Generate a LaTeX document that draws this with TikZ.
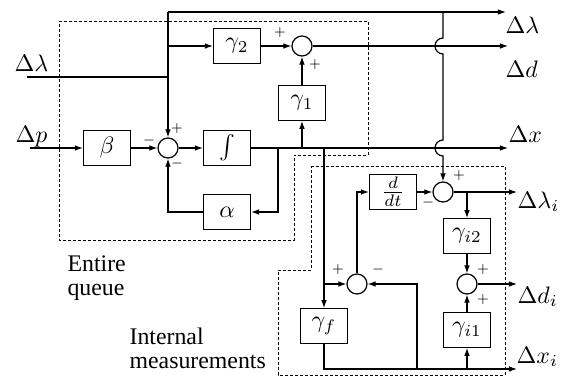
\documentclass[tikz,border=0pt]{standalone}
\usepackage{fontspec}
\newfontfamily\lsf{Liberation Serif}
\usetikzlibrary{arrows.meta}
\tikzset{
 blk/.style={draw, line width=0.5pt, minimum width=19.7pt, minimum height=14.5pt, inner sep=0pt},
 sumc/.style={draw, circle, line width=0.5pt, minimum size=8.4pt, inner sep=0pt},
 sig/.style={font=\fontsize{5}{6}\selectfont, inner sep=0pt},
 arr/.style={-{Latex[length=3.4pt,width=2.4pt]}},
 dbox/.style={line width=0.4pt, dash pattern=on 1.2pt off 0.9pt},
 mlbl/.style={anchor=base west, inner sep=0pt},
 tlbl/.style={anchor=base west, inner sep=0pt, font=\lsf},
}
\begin{document}
\begin{tikzpicture}[x=0.42pt,y=-0.42pt, line width=0.5pt]
\useasboundingbox (0,0) rectangle (569,376);
% dashed regions
\draw[dbox] (59,21) -- (368,21) -- (368,155) -- (294,155) -- (294,240) -- (59,240) -- cycle;
\draw[dbox] (311,166) -- (505,166) -- (505,375) -- (278,375) -- (278,270) -- (311,270) -- cycle;
% blocks
\node[blk] (beta) at (107,148) {$\beta$};
\node[sumc] (sum1) at (168,148) {};
\node[blk] (int) at (227,148) {$\int$};
\node[blk] (alpha) at (227,212) {$\alpha$};
\node[blk] (g2) at (237,46) {$\gamma_2$};
\node[sumc] (sum2) at (302,46) {};
\node[blk] (g1) at (302,103) {$\gamma_1$};
\node[blk] (ddt) at (393,192) {$\frac{d}{dt}$};
\node[sumc] (sum3) at (443,192) {};
\node[blk] (gi2) at (467,236) {$\gamma_{i2}$};
\node[sumc] (sum4) at (467,284) {};
\node[blk] (gi1) at (467,330) {$\gamma_{i1}$};
\node[sumc] (sum5) at (357,284) {};
\node[blk] (gf) at (324,326) {$\gamma_f$};
% coordinates
\coordinate (iLam) at (27,77);
\coordinate (iP) at (30,148);
\coordinate (jA) at (168,77);
\coordinate (jTop) at (168,12);
\coordinate (jG2) at (168,46);
\coordinate (oLam) at (506,12);
\coordinate (oD) at (508,46);
\coordinate (oX) at (508,148);
\coordinate (oLi) at (517,192);
\coordinate (oDi) at (517,284);
\coordinate (oXi) at (517,369);
\coordinate (jAl) at (278,148);
\coordinate (jG1) at (302,148);
\coordinate (jF) at (324,148);
\coordinate (jS5) at (324,284);
\coordinate (jV) at (443,12);
\coordinate (jH1) at (443,38);
\coordinate (jH2) at (443,140);
\coordinate (jGi2) at (467,192);
\coordinate (jB1) at (417,369);
\coordinate (jB2) at (467,369);
% connectors
\draw (iLam) -- (jA);
\draw (jA) -- (jTop);
\draw[arr] (jTop) -- (oLam);
\draw[arr] (jA) -- (sum1);
\draw[arr] (jG2) -- (g2);
\draw[arr] (iP) -- (beta);
\draw[arr] (beta) -- (sum1);
\draw[arr] (sum1) -- (int);
\draw[arr] (int) -- (oX);
\draw[arr] (jAl) |- (alpha);
\draw[arr] (alpha) -| (sum1);
\draw[arr] (jG1) -- (g1);
\draw[arr] (g1) -- (sum2);
\draw[arr] (g2) -- (sum2);
\draw[arr] (sum2) -- (oD);
\draw[arr] (jV) -- (jH1) arc[start angle=90, end angle=270, radius=3.36pt]
  -- (jH2) arc[start angle=90, end angle=270, radius=3.36pt] -- (sum3);
\draw[arr] (ddt) -- (sum3);
\draw[arr] (sum3) -- (oLi);
\draw[arr] (jGi2) -- (gi2);
\draw[arr] (gi2) -- (sum4);
\draw[arr] (gi1) -- (sum4);
\draw[arr] (sum4) -- (oDi);
\draw[arr] (jF) -- (gf);
\draw[arr] (jS5) -- (sum5);
\draw[arr] (gf) |- (oXi);
\draw[arr] (jB1) |- (sum5);
\draw[arr] (jB2) -- (gi1);
\draw[arr] (sum5) |- (ddt);
% signs
\node[sig] (s1a) at (177,129) {$+$};
\node[sig] (s1b) at (149,141) {$-$};
\node[sig] (s1c) at (177,164) {$-$};
\node[sig] (s2a) at (280,33) {$+$};
\node[sig] (s2b) at (315,65) {$+$};
\node[sig] (s3a) at (459,176) {$+$};
\node[sig] (s3b) at (428,203) {$-$};
\node[sig] (s4a) at (483,270) {$+$};
\node[sig] (s4b) at (483,300) {$+$};
\node[sig] (s5a) at (338,270) {$+$};
\node[sig] (s5b) at (378,270) {$-$};
% labels
\node[mlbl] (lLamIn) at (14,71) {$\Delta\lambda$};
\node[mlbl] (lPIn) at (15,142) {$\Delta p$};
\node[mlbl] (lLamOut) at (505,33) {$\Delta\lambda$};
\node[mlbl] (lDOut) at (505,77) {$\Delta d$};
\node[mlbl] (lXOut) at (508,142) {$\Delta x$};
\node[mlbl] (lLi) at (517,208) {$\Delta\lambda_i$};
\node[mlbl] (lDi) at (517,303) {$\Delta d_i$};
\node[mlbl] (lXi) at (516,363) {$\Delta x_i$};
\node[tlbl] (t1) at (67,271) {Entire};
\node[tlbl] (t2) at (67,295) {queue};
\node[tlbl] (t3) at (129,344) {Internal};
\node[tlbl] (t4) at (129,368) {measurements};
\end{tikzpicture}
\end{document}
